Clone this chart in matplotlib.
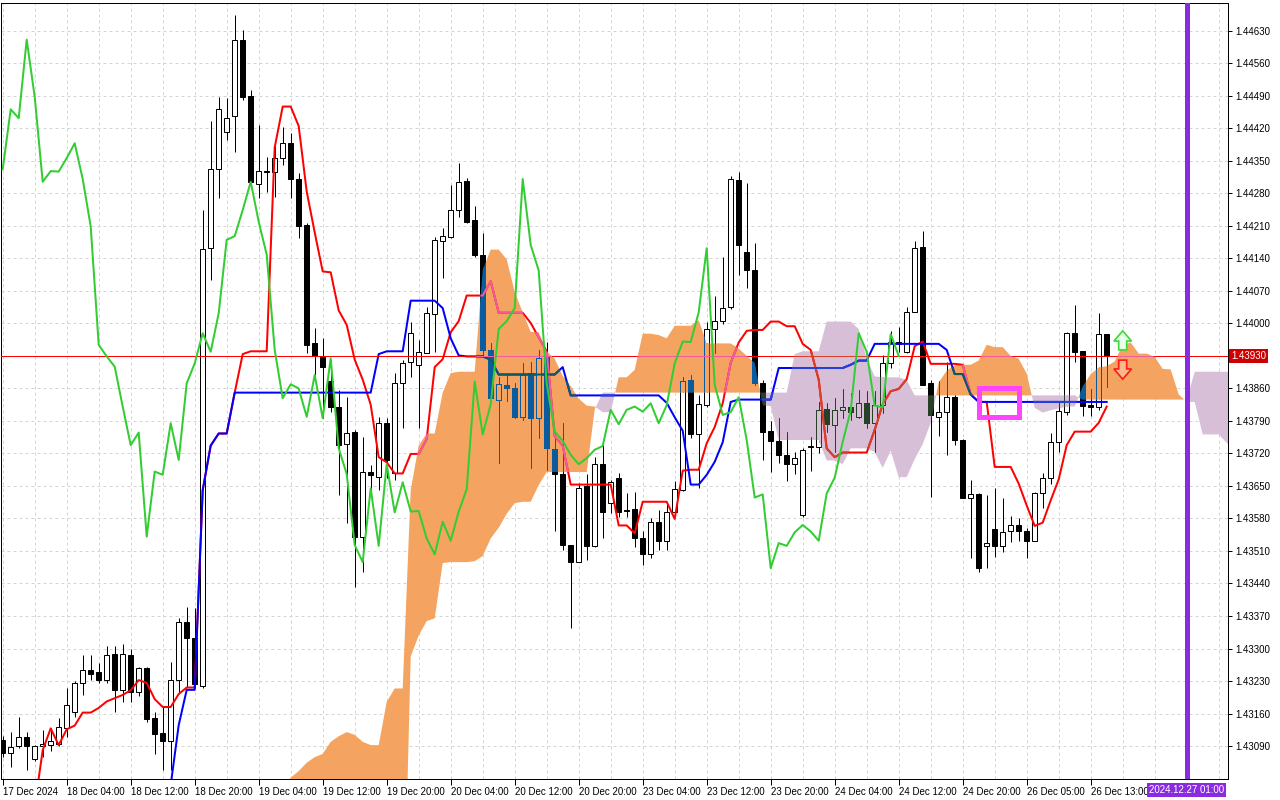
import numpy as np
import matplotlib
matplotlib.use("Agg")
import matplotlib.pyplot as plt
from matplotlib.path import Path
from matplotlib.patches import Rectangle, Polygon
from matplotlib.ticker import FuncFormatter
from matplotlib.transforms import blended_transform_factory

# ---------------- data (hourly candles, bar index 0 = 17 Dec 2024 20:00) ----------------
opens = [
    1.43104, 1.43076, 1.43089, 1.43109, 1.43061, 1.43089, 1.43093, 1.43094, 1.43129, 1.43163,
    1.43225, 1.43253, 1.43249, 1.43232, 1.43288, 1.43211, 1.43286, 1.43207, 1.43258, 1.43150,
    1.43118, 1.43101, 1.43232, 1.43356, 1.43322, 1.43219, 1.44162, 1.44332, 1.44412, 1.44447,
    1.44611, 1.44490, 1.44300, 1.44328, 1.44327, 1.44356, 1.44388, 1.44311, 1.44212, 1.43957,
    1.43929, 1.43875, 1.43821, 1.43740, 1.43767, 1.43541, 1.43681, 1.43670, 1.43785, 1.43677,
    1.43871, 1.43916, 1.43911, 1.43937, 1.44020, 1.44178, 1.44187, 1.44244, 1.44307, 1.44223,
    1.44148, 1.43943, 1.43835, 1.43868, 1.43860, 1.43799, 1.43893, 1.43796, 1.43929, 1.43729,
    1.43676, 1.43523, 1.43486, 1.43649, 1.43521, 1.43697, 1.43613, 1.43667, 1.43598, 1.43600,
    1.43537, 1.43503, 1.43573, 1.43532, 1.43595, 1.43641, 1.43878, 1.43762, 1.43824, 1.43988,
    1.44005, 1.44036, 1.44309, 1.44153, 1.44115, 1.43871, 1.43768, 1.43747, 1.43717, 1.43697,
    1.43588, 1.43734, 1.43733, 1.43815, 1.43781, 1.43814, 1.43821, 1.43799, 1.43828, 1.43785,
    1.43824, 1.43914, 1.43956, 1.43939, 1.44025, 1.44165, 1.43871, 1.43799, 1.43810, 1.43842,
    1.43749, 1.43624, 1.43632, 1.43521, 1.43557, 1.43521, 1.43552, 1.43566, 1.43552, 1.43532,
    1.43634, 1.43668, 1.43745, 1.43810, 1.43979, 1.43941, 1.43824, 1.43819, 1.43977]
highs = [
    1.43112, 1.43121, 1.43152, 1.43121, 1.43092, 1.43125, 1.43128, 1.43150, 1.43214, 1.43229,
    1.43286, 1.43286, 1.43269, 1.43305, 1.43305, 1.43310, 1.43298, 1.43261, 1.43261, 1.43164,
    1.43175, 1.43272, 1.43365, 1.43389, 1.43387, 1.44244, 1.44435, 1.44488, 1.44485, 1.44664,
    1.44632, 1.44503, 1.44428, 1.44359, 1.44381, 1.44424, 1.44411, 1.44324, 1.44216, 1.43990,
    1.43968, 1.43921, 1.43857, 1.43842, 1.43771, 1.43756, 1.43695, 1.43799, 1.43796, 1.43893,
    1.43921, 1.44004, 1.43965, 1.44036, 1.44187, 1.44205, 1.44298, 1.44346, 1.44313, 1.44252,
    1.44194, 1.43957, 1.43885, 1.43889, 1.43871, 1.43914, 1.43918, 1.43943, 1.43961, 1.43756,
    1.43785, 1.43523, 1.43656, 1.43675, 1.43712, 1.43751, 1.43663, 1.43677, 1.43634, 1.43636,
    1.43552, 1.43580, 1.43598, 1.43613, 1.43661, 1.43885, 1.43889, 1.43846, 1.44004, 1.44059,
    1.44143, 1.44318, 1.44327, 1.44302, 1.44173, 1.43878, 1.43790, 1.43796, 1.43767, 1.43724,
    1.43731, 1.43756, 1.43830, 1.43828, 1.43839, 1.43859, 1.43850, 1.43857, 1.43855, 1.43855,
    1.43932, 1.43984, 1.43993, 1.44036, 1.44178, 1.44198, 1.43878, 1.43875, 1.43918, 1.43845,
    1.43751, 1.43663, 1.43634, 1.43631, 1.43646, 1.43624, 1.43586, 1.43580, 1.43559, 1.43638,
    1.43677, 1.43764, 1.43833, 1.43982, 1.44040, 1.43941, 1.43859, 1.44022, 1.43977]
lows = [
    1.43066, 1.43045, 1.43086, 1.43038, 1.43058, 1.43067, 1.43080, 1.43089, 1.43109, 1.43153,
    1.43200, 1.43232, 1.43225, 1.43225, 1.43164, 1.43185, 1.43185, 1.43198, 1.43142, 1.43072,
    1.43038, 1.43038, 1.43204, 1.43218, 1.43215, 1.43215, 1.44094, 1.44270, 1.44395, 1.44370,
    1.44481, 1.44295, 1.44270, 1.44284, 1.44273, 1.44341, 1.44270, 1.44185, 1.43936, 1.43889,
    1.43796, 1.43810, 1.43631, 1.43570, 1.43433, 1.43465, 1.43624, 1.43641, 1.43667, 1.43663,
    1.43774, 1.43885, 1.43774, 1.43936, 1.43939, 1.44097, 1.44183, 1.44230, 1.44216, 1.44144,
    1.43929, 1.43835, 1.43699, 1.43832, 1.43796, 1.43792, 1.43688, 1.43753, 1.43685, 1.43552,
    1.43512, 1.43344, 1.43486, 1.43491, 1.43518, 1.43537, 1.43591, 1.43584, 1.43584, 1.43519,
    1.43480, 1.43494, 1.43512, 1.43512, 1.43591, 1.43640, 1.43753, 1.43645, 1.43820, 1.43936,
    1.43998, 1.44031, 1.44105, 1.44076, 1.43868, 1.43706, 1.43681, 1.43699, 1.43661, 1.43675,
    1.43584, 1.43682, 1.43720, 1.43767, 1.43724, 1.43796, 1.43792, 1.43796, 1.43774, 1.43724,
    1.43807, 1.43904, 1.43939, 1.43936, 1.44024, 1.43868, 1.43627, 1.43758, 1.43717, 1.43738,
    1.43624, 1.43495, 1.43464, 1.43474, 1.43498, 1.43507, 1.43529, 1.43532, 1.43494, 1.43532,
    1.43602, 1.43654, 1.43724, 1.43803, 1.43918, 1.43801, 1.43801, 1.43814, 1.43864]
closes = [
    1.43076, 1.43087, 1.43109, 1.43089, 1.43090, 1.43094, 1.43100, 1.43130, 1.43178, 1.43226,
    1.43253, 1.43246, 1.43232, 1.43286, 1.43211, 1.43288, 1.43207, 1.43258, 1.43149, 1.43116,
    1.43101, 1.43232, 1.43358, 1.43322, 1.43224, 1.44160, 1.44332, 1.44461, 1.44442, 1.44611,
    1.44488, 1.44305, 1.44328, 1.44327, 1.44356, 1.44388, 1.44311, 1.44209, 1.43954, 1.43929,
    1.43907, 1.43821, 1.43738, 1.43765, 1.43541, 1.43681, 1.43674, 1.43785, 1.43706, 1.43871,
    1.43914, 1.43979, 1.43939, 1.44022, 1.44180, 1.44188, 1.44244, 1.44305, 1.44219, 1.44148,
    1.43943, 1.43839, 1.43869, 1.43860, 1.43799, 1.43889, 1.43796, 1.43925, 1.43731, 1.43676,
    1.43523, 1.43486, 1.43645, 1.43521, 1.43697, 1.43593, 1.43658, 1.43595, 1.43596, 1.43537,
    1.43503, 1.43573, 1.43532, 1.43595, 1.43643, 1.43875, 1.43761, 1.43826, 1.43988, 1.44005,
    1.44033, 1.44311, 1.44169, 1.44114, 1.43871, 1.43767, 1.43747, 1.43717, 1.43697, 1.43710,
    1.43728, 1.43736, 1.43814, 1.43783, 1.43814, 1.43821, 1.43810, 1.43828, 1.43785, 1.43824,
    1.43914, 1.43961, 1.43960, 1.44024, 1.44162, 1.43868, 1.43803, 1.43809, 1.43841, 1.43749,
    1.43625, 1.43632, 1.43473, 1.43527, 1.43521, 1.43550, 1.43566, 1.43552, 1.43532, 1.43634,
    1.43668, 1.43745, 1.43812, 1.43979, 1.43939, 1.43823, 1.43819, 1.43977, 1.43930]

# Ichimoku lines (bar 0..138)
tenkan = [
    1.42900, 1.42900, 1.42920, 1.42940, 1.42960, 1.43081, 1.43128, 1.43092, 1.43126, 1.43134,
    1.43162, 1.43162, 1.43172, 1.43186, 1.43193, 1.43200, 1.43210, 1.43232, 1.43226, 1.43191,
    1.43174, 1.43174, 1.43202, 1.43216, 1.43216, 1.43641, 1.43737, 1.43763, 1.43763, 1.43851,
    1.43934, 1.43940, 1.43940, 1.43940, 1.44379, 1.44467, 1.44467, 1.44425, 1.44284, 1.44196,
    1.44112, 1.44110, 1.44028, 1.43997, 1.43922, 1.43879, 1.43825, 1.43712, 1.43701, 1.43677,
    1.43677, 1.43719, 1.43719, 1.43751, 1.43906, 1.43923, 1.43981, 1.44005, 1.44060, 1.44060,
    1.44060, 1.44091, 1.44023, 1.44023, 1.44023, 1.44023, 1.44001, 1.43970, 1.43940, 1.43757,
    1.43737, 1.43653, 1.43653, 1.43653, 1.43653, 1.43653, 1.43653, 1.43565, 1.43565, 1.43548,
    1.43616, 1.43616, 1.43616, 1.43616, 1.43579, 1.43683, 1.43685, 1.43685, 1.43742, 1.43777,
    1.43828, 1.43915, 1.43959, 1.43984, 1.43986, 1.43986, 1.44004, 1.44004, 1.43994, 1.43994,
    1.43956, 1.43943, 1.43879, 1.43731, 1.43712, 1.43722, 1.43722, 1.43722, 1.43722, 1.43771,
    1.43826, 1.43854, 1.43859, 1.43880, 1.43951, 1.43961, 1.43913, 1.43913, 1.43913, 1.43913,
    1.43911, 1.43847, 1.43831, 1.43831, 1.43691, 1.43691, 1.43691, 1.43655, 1.43608, 1.43564,
    1.43571, 1.43619, 1.43664, 1.43738, 1.43767, 1.43767, 1.43767, 1.43786, 1.43821]
kijun = [
    1.42850, 1.42850, 1.42850, 1.42850, 1.42850, 1.42850, 1.42850, 1.42850, 1.42850, 1.42850,
    1.42850, 1.42850, 1.42850, 1.42850, 1.42850, 1.42850, 1.42850, 1.42850, 1.42850, 1.42850,
    1.42900, 1.43006, 1.43135, 1.43211, 1.43211, 1.43641, 1.43737, 1.43763, 1.43763, 1.43851,
    1.43851, 1.43851, 1.43851, 1.43851, 1.43851, 1.43851, 1.43851, 1.43851, 1.43851, 1.43851,
    1.43851, 1.43851, 1.43851, 1.43851, 1.43851, 1.43851, 1.43851, 1.43934, 1.43940, 1.43940,
    1.43940, 1.44049, 1.44049, 1.44049, 1.44049, 1.44033, 1.43968, 1.43931, 1.43929, 1.43929,
    1.43929, 1.43922, 1.43890, 1.43890, 1.43890, 1.43890, 1.43890, 1.43890, 1.43890, 1.43890,
    1.43906, 1.43845, 1.43845, 1.43845, 1.43845, 1.43845, 1.43845, 1.43845, 1.43845, 1.43845,
    1.43845, 1.43845, 1.43845, 1.43829, 1.43798, 1.43769, 1.43653, 1.43653, 1.43674, 1.43702,
    1.43744, 1.43831, 1.43836, 1.43836, 1.43836, 1.43836, 1.43836, 1.43904, 1.43904, 1.43904,
    1.43904, 1.43904, 1.43904, 1.43904, 1.43904, 1.43904, 1.43911, 1.43920, 1.43920, 1.43956,
    1.43956, 1.43956, 1.43956, 1.43956, 1.43956, 1.43956, 1.43956, 1.43956, 1.43943, 1.43891,
    1.43891, 1.43847, 1.43831, 1.43831, 1.43831, 1.43831, 1.43831, 1.43831, 1.43831, 1.43831,
    1.43831, 1.43831, 1.43831, 1.43831, 1.43831, 1.43831, 1.43831, 1.43831, 1.43831]

# Senkou spans (already shifted forward), first value is at bar 35
span_first_bar = 35
span_a = [
    1.42995, 1.43022, 1.43036, 1.43054, 1.43066, 1.43073, 1.43099, 1.43111, 1.43120, 1.43114,
    1.43099, 1.43092, 1.43092, 1.43185, 1.43214, 1.43214, 1.43641, 1.43737, 1.43763, 1.43763,
    1.43851, 1.43893, 1.43896, 1.43896, 1.43896, 1.44115, 1.44159, 1.44159, 1.44138, 1.44068,
    1.44024, 1.43982, 1.43981, 1.43940, 1.43924, 1.43887, 1.43865, 1.43838, 1.43823, 1.43821,
    1.43809, 1.43809, 1.43884, 1.43884, 1.43900, 1.43978, 1.43978, 1.43975, 1.43968, 1.43995,
    1.43995, 1.43995, 1.44007, 1.43957, 1.43957, 1.43957, 1.43957, 1.43946, 1.43930, 1.43915,
    1.43824, 1.43822, 1.43749, 1.43749, 1.43749, 1.43749, 1.43749, 1.43749, 1.43705, 1.43705,
    1.43697, 1.43731, 1.43731, 1.43731, 1.43723, 1.43689, 1.43726, 1.43669, 1.43669, 1.43708,
    1.43740, 1.43786, 1.43873, 1.43898, 1.43910, 1.43911, 1.43911, 1.43920, 1.43954, 1.43949,
    1.43949, 1.43930, 1.43924, 1.43892, 1.43818, 1.43808, 1.43813, 1.43817, 1.43821, 1.43821,
    1.43864, 1.43891, 1.43905, 1.43908, 1.43918, 1.43954, 1.43959, 1.43935, 1.43935, 1.43928,
    1.43902, 1.43901, 1.43847, 1.43831, 1.43831, 1.43761, 1.43761, 1.43761, 1.43743, 1.43720]
span_b = [
    1.42600, 1.42600, 1.42600, 1.42600, 1.42600, 1.42600, 1.42600, 1.42600, 1.42600, 1.42600,
    1.42600, 1.42600, 1.42600, 1.42600, 1.42600, 1.42600, 1.43283, 1.43328, 1.43359, 1.43365,
    1.43484, 1.43486, 1.43486, 1.43486, 1.43488, 1.43499, 1.43537, 1.43560, 1.43590, 1.43613,
    1.43616, 1.43616, 1.43652, 1.43680, 1.43680, 1.43680, 1.43680, 1.43680, 1.43680, 1.43815,
    1.43851, 1.43851, 1.43851, 1.43851, 1.43851, 1.43851, 1.43851, 1.43851, 1.43851, 1.43851,
    1.43851, 1.43851, 1.43851, 1.43851, 1.43851, 1.43851, 1.43851, 1.43851, 1.43851, 1.43851,
    1.43851, 1.43851, 1.43851, 1.43851, 1.43934, 1.43940, 1.43940, 1.43940, 1.44004, 1.44004,
    1.44004, 1.44004, 1.43988, 1.43924, 1.43886, 1.43884, 1.43884, 1.43884, 1.43878, 1.43845,
    1.43845, 1.43845, 1.43845, 1.43845, 1.43845, 1.43845, 1.43845, 1.43845, 1.43845, 1.43845,
    1.43845, 1.43845, 1.43845, 1.43845, 1.43845, 1.43845, 1.43845, 1.43845, 1.43845, 1.43845,
    1.43836, 1.43836, 1.43836, 1.43836, 1.43836, 1.43836, 1.43836, 1.43836, 1.43836, 1.43836,
    1.43836, 1.43836, 1.43836, 1.43836, 1.43896, 1.43896, 1.43896, 1.43896, 1.43896, 1.43896]

chikou_shift = 26
time_labels = ["17 Dec 2024", "18 Dec 04:00", "18 Dec 12:00", "18 Dec 20:00", "19 Dec 04:00",
               "19 Dec 12:00", "19 Dec 20:00", "20 Dec 04:00", "20 Dec 12:00", "20 Dec 20:00",
               "23 Dec 04:00", "23 Dec 12:00", "23 Dec 20:00", "24 Dec 04:00", "24 Dec 12:00",
               "24 Dec 20:00", "26 Dec 05:00", "26 Dec 13:00"]
time_label_bars = [0, 8, 16, 24, 32, 40, 48, 56, 64, 72, 80, 88, 96, 104, 112, 120, 128, 136]
price_ticks = [1.43090, 1.43160, 1.43230, 1.43300, 1.43370, 1.43440, 1.43510, 1.43580,
               1.43650, 1.43720, 1.43790, 1.43860, 1.43930, 1.44000, 1.44070, 1.44140,
               1.44210, 1.44280, 1.44350, 1.44420, 1.44490, 1.44560, 1.44630]
last_price = 1.43930
marker_bar = 148
marker_label = "2024.12.27 01:00"

# ---------------- figure ----------------
plt.rcParams['font.family'] = ['Liberation Sans', 'DejaVu Sans']
FS = 7
fig = plt.figure(figsize=(12.8, 8), dpi=100)
ax = fig.add_axes([1 / 1280, 21 / 800, 1227 / 1280, 776 / 800])
ax.set_xlim(-0.2125, 153.1625)
ax.set_ylim(1.43019, 1.44690)

o = np.array(opens); h = np.array(highs); l = np.array(lows); c = np.array(closes)
x = np.arange(len(c))
up = c >= o
body_low = np.minimum(o, c)
body_h = np.abs(c - o)

PX = 0.72  # one pixel in points

# grid & ticks
ax.set_xticks(time_label_bars)
ax.set_xticklabels(time_labels, ha='left', fontsize=FS)
ax.set_xticks(np.arange(0, 154, 4), minor=True)
ax.set_yticks(price_ticks)
# the current-price box replaces the regular label at that level
ax.yaxis.set_major_formatter(FuncFormatter(
    lambda v, pos: '' if abs(v - last_price) < 1e-7 else '%.5f' % v))
ax.yaxis.tick_right()
ax.tick_params(axis='y', labelsize=FS, length=3, width=PX, pad=2, direction='out')
ax.tick_params(axis='x', which='major', length=4, width=PX, pad=2, direction='out')
ax.tick_params(axis='x', which='minor', length=0)
gstyle = dict(color='#D4D4D4', linestyle=(0, (3, 3)), linewidth=PX)
ax.grid(True, which='both', axis='x', **gstyle)
ax.grid(True, which='major', axis='y', **gstyle)
ax.set_axisbelow(True)
for s in ax.spines.values():
    s.set_linewidth(PX)
    s.set_color('black')

# cloud
ORANGE = (244, 164, 96)
THISTLE = (216, 191, 216)
def hexc(rgb):
    return '#%02X%02X%02X' % tuple(rgb)

xs = np.arange(len(span_a)) + span_first_bar
A = np.array(span_a); B = np.array(span_b)
cloud_up = ax.fill_between(xs, A, B, where=A >= B, interpolate=True,
                           facecolor=hexc(ORANGE), linewidth=0, zorder=1)
cloud_dn = ax.fill_between(xs, A, B, where=A < B, interpolate=True,
                           facecolor=hexc(THISTLE), linewidth=0, zorder=1)

# candles
def draw_candles(wick_col, bull_face, bear_face, edge, z):
    arts = [ax.vlines(x, l, h, color=wick_col, linewidth=PX, zorder=z)]
    faces = [bull_face if u else bear_face for u in up]
    bars = ax.bar(x, body_h, bottom=body_low, width=0.56, color=faces,
                  edgecolor=edge, linewidth=PX, zorder=z + 0.05)
    arts.extend(bars.patches)
    return arts

draw_candles('black', 'white', 'black', 'black', 2)
ax.plot(x, tenkan, color='#FF0000', linewidth=2 * PX, zorder=3, solid_joinstyle='round')
ax.plot(x, kijun, color='#0000FF', linewidth=2 * PX, zorder=3.1, solid_joinstyle='round')
ax.axhline(last_price, color='#FF0000', linewidth=PX, zorder=3.2)

# XOR-like recolouring of everything drawn under the cloud (MetaTrader style)
def overlay(coll, cloud_rgb, z):
    paths = coll.get_paths()
    if not paths:
        return
    clip = Path.make_compound_path(*paths)
    mask = tuple(255 ^ v for v in cloud_rgb)
    xr = lambda rgb: hexc([a ^ b for a, b in zip(rgb, mask)])
    blk, red, blu = xr((0, 0, 0)), xr((255, 0, 0)), xr((0, 0, 255))
    arts = draw_candles(blk, hexc(cloud_rgb), blk, blk, z)
    arts += ax.plot(x, tenkan, color=red, linewidth=2 * PX, zorder=z + 0.1)
    arts += ax.plot(x, kijun, color=blu, linewidth=2 * PX, zorder=z + 0.11)
    arts.append(ax.axhline(last_price, color=red, linewidth=PX, zorder=z + 0.12))
    for a in arts:
        a.set_clip_path(clip, ax.transData)

overlay(cloud_up, ORANGE, 4)
overlay(cloud_dn, THISTLE, 4.5)

# chikou span
ax.plot(x[:len(c) - chikou_shift], c[chikou_shift:], color='#32CD32',
        linewidth=2 * PX, zorder=5, solid_joinstyle='round')

# drawn objects
ax.add_patch(Rectangle((122.0, 1.43799), 5.0, 0.00063, fill=False, edgecolor='#FF44FF',
                       linewidth=3.6, joinstyle='miter', zorder=6))
up_arrow = [(140.0, 1.43984), (141.1, 1.43962), (140.5, 1.43962), (140.5, 1.43943),
            (139.5, 1.43943), (139.5, 1.43962), (138.9, 1.43962)]
dn_arrow = [(140.0, 1.43880), (141.1, 1.43902), (140.5, 1.43902), (140.5, 1.43921),
            (139.5, 1.43921), (139.5, 1.43902), (138.9, 1.43902)]
ax.add_patch(Polygon(up_arrow, closed=True, facecolor='#EAFFEA', edgecolor='#3CD83C',
                     linewidth=1.2, zorder=6))
ax.add_patch(Polygon(dn_arrow, closed=True, facecolor='#F9B98A', edgecolor='#FF1A1A',
                     linewidth=1.2, zorder=6))
ax.axvline(marker_bar, color='#8A2BE2', linewidth=5 * PX, zorder=7)

# labels on the axes
tr_y = blended_transform_factory(ax.transAxes, ax.transData)
ax.text(1.0025, last_price, '%.5f' % last_price, transform=tr_y, fontsize=FS, color='white',
        ha='left', va='center', clip_on=False, zorder=10,
        bbox=dict(boxstyle='square,pad=0.2', facecolor='#CC0000', edgecolor='none'))
tr_x = blended_transform_factory(ax.transData, ax.transAxes)
ax.text(marker_bar, -0.0138, marker_label, transform=tr_x, fontsize=FS, color='white',
        ha='center', va='center', clip_on=False, zorder=10,
        bbox=dict(boxstyle='square,pad=0.2', facecolor='#8A2BE2', edgecolor='none'))

fig.savefig('out.png', dpi=100, facecolor='white')
